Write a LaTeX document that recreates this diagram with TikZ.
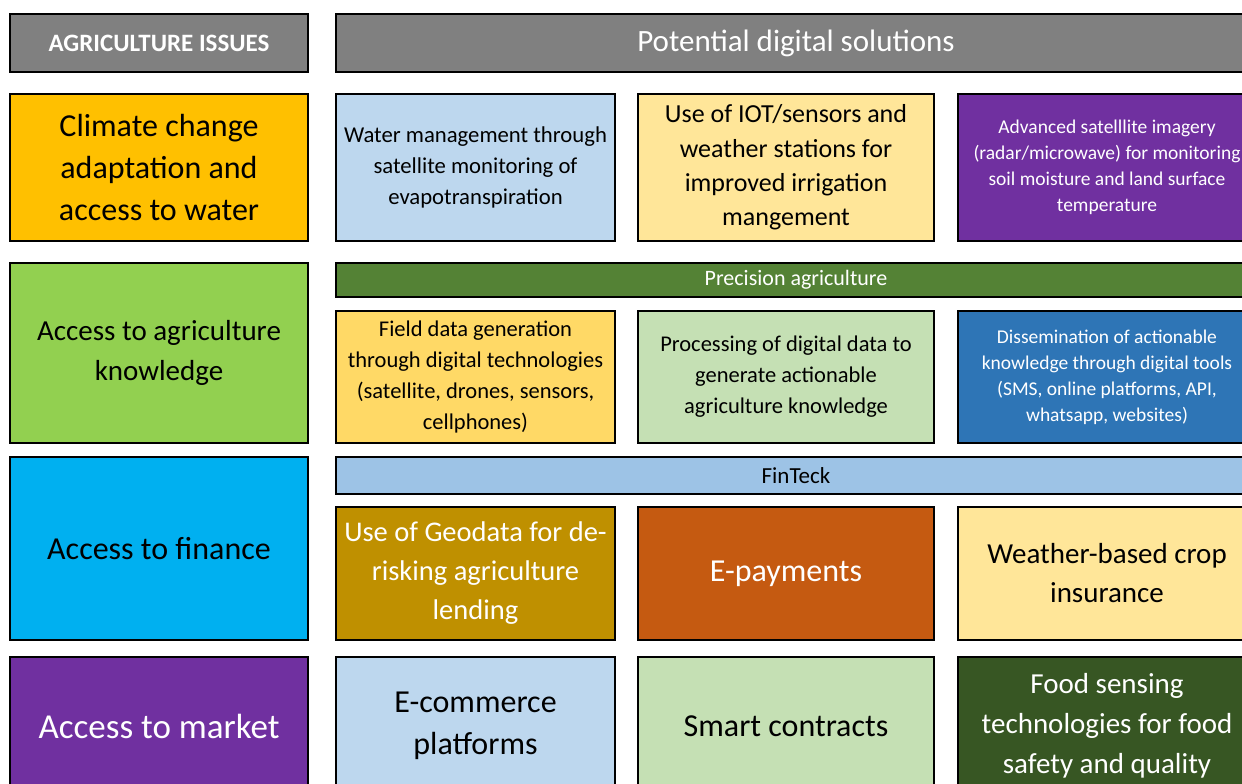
\documentclass[tikz,border=0pt]{standalone}
\usepackage{fontspec}
\setmainfont{Carlito}
\definecolor{hdrgray}{HTML}{808080}
\definecolor{cOrange}{HTML}{FFC000}
\definecolor{cPaleBlue}{HTML}{BDD7EE}
\definecolor{cPaleYellow}{HTML}{FFE699}
\definecolor{cPurple}{HTML}{7030A0}
\definecolor{cGreen}{HTML}{92D050}
\definecolor{cBarGreen}{HTML}{548235}
\definecolor{cYellow}{HTML}{FFD966}
\definecolor{cPaleGreen}{HTML}{C5E0B4}
\definecolor{cBlue}{HTML}{2E75B6}
\definecolor{cCyan}{HTML}{00B0F0}
\definecolor{cBarBlue}{HTML}{9DC3E6}
\definecolor{cGold}{HTML}{BF9000}
\definecolor{cRust}{HTML}{C55A11}
\definecolor{cDarkGreen}{HTML}{375623}
\begin{document}
\begin{tikzpicture}[x=1pt,y=-1pt]
		\tikzset{cell/.style = {draw=black, line width=2pt, inner sep=0pt, align=center}}
		\tikzset{fs/.style 2 args = {font=\fontsize{#1}{#2}\selectfont}}
		\tikzset{issue/.style = {cell, minimum width=298}}
		\tikzset{sol/.style = {cell, minimum width=#1}}
		\useasboundingbox (0,0) rectangle (1242,784);
		\clip (0,0) rectangle (1242,784);
		% headers
		\node[issue, fill=hdrgray, text=white, minimum height=58, fs={25}{30}] (hdrL) at (159,43) {\bfseries AGRICULTURE ISSUES};
		\node[sol=920, fill=hdrgray, text=white, minimum height=58, fs={31}{38}] (hdrR) at (796,43) {Potential digital solutions};
		% row 1
		\node[issue, fill=cOrange, minimum height=147, fs={32}{42}] (issA) at (159,167.5) {Climate change\\adaptation and\\access to water};
		\node[sol=279, fill=cPaleBlue, minimum height=147, fs={22.7}{31}] (solA1) at (475.5,167.5) {Water management through\\satellite monitoring of\\evapotranspiration};
		\node[sol=296, fill=cPaleYellow, minimum height=147, fs={26}{34.3}] (solA2) at (786,167.5) {Use of IOT/sensors and\\weather stations for\\improved irrigation\\mangement};
		\node[sol=298, fill=cPurple, text=white, minimum height=147, fs={19.5}{26}] (solA3) at (1107,167.5) {Advanced satelllite imagery\\(radar/microwave) for monitoring\\soil moisture and land surface\\temperature};
		% row 2
		\node[issue, fill=cGreen, minimum height=180, fs={29}{40}] (issB) at (159,353) {Access to agriculture\\knowledge};
		\node[sol=920, fill=cBarGreen, text=white, minimum height=34, fs={22}{26}] (barB) at (796,280) {Precision agriculture};
		\node[sol=279, fill=cYellow, minimum height=132, fs={22.5}{31}] (solB1) at (475.5,377) {Field data generation\\through digital technologies\\(satellite, drones, sensors,\\cellphones)};
		\node[sol=296, fill=cPaleGreen, minimum height=132, fs={22.5}{31}] (solB2) at (786,377) {Processing of digital data to\\generate actionable\\agriculture knowledge};
		\node[sol=298, fill=cBlue, text=white, minimum height=132, fs={19.5}{26}] (solB3) at (1107,377) {Dissemination of actionable\\knowledge through digital tools\\(SMS, online platforms, API,\\whatsapp, websites)};
		% row 3
		\node[issue, fill=cCyan, minimum height=183, fs={32}{40}] (issC) at (159,548.5) {Access to finance};
		\node[sol=920, fill=cBarBlue, minimum height=37, fs={23}{28}] (barC) at (796,475.5) {FinTeck};
		\node[sol=279, fill=cGold, text=white, minimum height=133, fs={28.5}{39}] (solC1) at (475.5,573.5) {Use of Geodata for de-\\risking agriculture\\lending};
		\node[sol=296, fill=cRust, text=white, minimum height=133, fs={32}{40}] (solC2) at (786,573.5) {E-payments};
		\node[sol=298, fill=cPaleYellow, minimum height=133, fs={29}{39}] (solC3) at (1107,573.5) {Weather-based crop\\insurance};
		% row 4
		\node[issue, fill=cPurple, text=white, minimum height=138, fs={35}{42}] (issD) at (159,726) {Access to market};
		\node[sol=279, fill=cPaleBlue, minimum height=138, fs={32}{42}] (solD1) at (475.5,726) {E-commerce\\platforms};
		\node[sol=296, fill=cPaleGreen, minimum height=138, fs={32}{42}] (solD2) at (786,726) {Smart contracts};
		\node[sol=298, fill=cDarkGreen, text=white, minimum height=138, fs={29}{40}] (solD3) at (1107,726) {Food sensing\\technologies for food\\safety and quality};
	\end{tikzpicture}
\end{document}
